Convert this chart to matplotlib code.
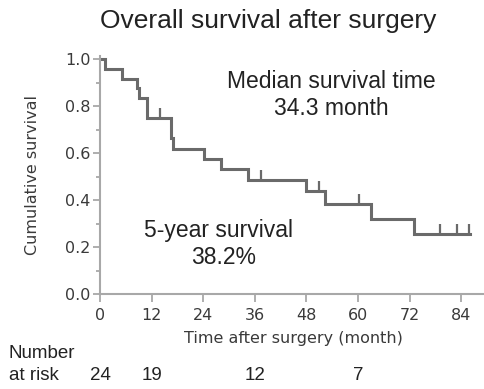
import matplotlib
matplotlib.use("Agg")
import matplotlib.pyplot as plt
from matplotlib.ticker import MultipleLocator
from matplotlib.transforms import blended_transform_factory

# Kaplan-Meier steps
step_times = [0, 1.2, 5, 8.5, 9, 11, 16.5, 17, 24.2, 28.1, 34.5, 47.8, 52.3, 63, 73, 86]
step_surv = [1.0, 0.958, 0.917, 0.875, 0.833, 0.75, 0.662, 0.618, 0.574, 0.53, 0.486,
             0.437, 0.383, 0.319, 0.255, 0.255]
censor_times = [14, 37.4, 50.9, 60.2, 79, 83.1, 85.8]
censor_surv = [0.75, 0.486, 0.437, 0.383, 0.255, 0.255, 0.255]

risk_times = [0, 12, 36, 60]
risk_counts = [24, 19, 12, 7]

line_col = "#6a6a6a"
axis_col = "#a8a8a8"

fig = plt.figure(figsize=(4.85, 3.89), dpi=100)
ax = fig.add_axes([100/485, 95/389, 385/485, 238.5/389])

ax.step(step_times, step_surv, where="post", color=line_col, lw=2.2, solid_joinstyle="miter")
ax.plot(censor_times, censor_surv, ls="none", marker=2, ms=7.5, mew=1.6, color=line_col)

ax.set_xlim(0, 89.5)
ax.set_ylim(0, 1.015)
ax.set_xticks(range(0, 85, 12))
ax.yaxis.set_major_locator(MultipleLocator(0.2))
ax.yaxis.set_minor_locator(MultipleLocator(0.1))
ax.yaxis.set_major_formatter(lambda v, p: f"{v:.1f}")

for s in ["top", "right"]:
    ax.spines[s].set_visible(False)
for s in ["left", "bottom"]:
    ax.spines[s].set_color(axis_col)
    ax.spines[s].set_linewidth(1.5)

ax.tick_params(axis="both", which="both", color=axis_col, width=1.3,
               labelcolor="#3a3a3a", labelsize=11.5, direction="out")
ax.tick_params(axis="y", which="major", length=5, pad=2)
ax.tick_params(axis="y", which="minor", length=3)
ax.tick_params(axis="x", which="major", length=6, pad=4)

ax.set_xlabel("Time after surgery (month)", fontsize=11.5, color="#3a3a3a")
ax.set_ylabel("Cumulative survival", fontsize=11.5, color="#3a3a3a")
ax.xaxis.set_label_coords(193/385, -45/238.5)
ax.xaxis.label.set_va("center")
ax.yaxis.set_label_coords(-67/385, 0.5)
ax.yaxis.label.set_va("center")

arial = "Liberation Sans"
fig.text(268.5/485, 1 - 28/389, "Overall survival after surgery", family=arial,
         fontsize=19, ha="center", va="baseline", color="#222222")

ax.text(0.6, (294-88)/238.5, "Median survival time", transform=ax.transAxes,
        family=arial, fontsize=16.5, ha="center", va="baseline", color="#222222")
ax.text(0.6, (294-115)/238.5, "34.3 month", transform=ax.transAxes,
        family=arial, fontsize=16.5, ha="center", va="baseline", color="#222222")
ax.text(118.5/385, (294-236.5)/238.5, "5-year survival", transform=ax.transAxes,
        family=arial, fontsize=16.5, ha="center", va="baseline", color="#222222")
ax.text(123.5/385, (294-264)/238.5, "38.2%", transform=ax.transAxes,
        family=arial, fontsize=16.5, ha="center", va="baseline", color="#222222")

# number at risk row
fig.text(9/485, 1 - 358/389, "Number", family=arial, fontsize=13.5,
         ha="left", va="baseline", color="#222222")
fig.text(9/485, 1 - 380/389, "at risk", family=arial, fontsize=13.5,
         ha="left", va="baseline", color="#222222")
trans = blended_transform_factory(ax.transData, fig.transFigure)
for t, n in zip(risk_times, risk_counts):
    ax.text(t, 1 - 380/389, str(n), transform=trans, family=arial, fontsize=13.5,
            ha="center", va="baseline", color="#222222", clip_on=False)

fig.savefig("out.png", dpi=100)
